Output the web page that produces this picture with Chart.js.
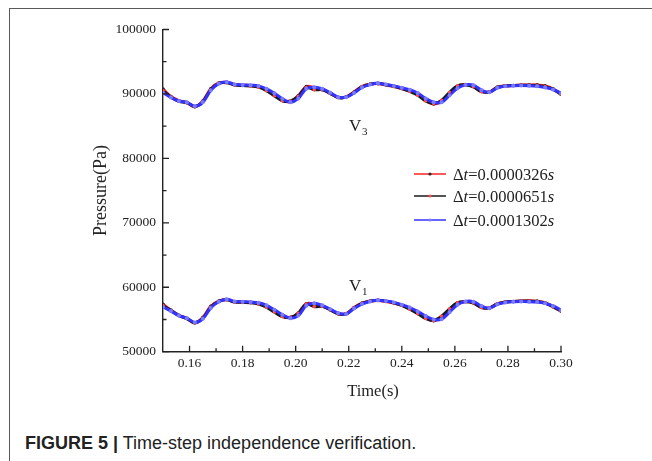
<!DOCTYPE html>
<html>
<head>
<meta charset="utf-8">
<script src="https://cdn.jsdelivr.net/npm/chart.js@4.4.1/dist/chart.umd.min.js"></script>
<style>
  body { margin: 0; background: #fff; }
  #wrap { position: relative; width: 652px; height: 461px; overflow: hidden; }
  #frame { position: absolute; left: 9px; top: 8px; width: 700px; height: 500px;
           border-left: 1.5px solid #5a5a5a; border-top: 1.5px solid #5a5a5a; }
  #chart { position: absolute; left: 0; top: 0; }
  #caption { position: absolute; left: 25px; top: 434px; font-family: "Liberation Sans", Arial, sans-serif;
             font-size: 18px; line-height: 18px; color: #222; white-space: nowrap; }
  #caption b { font-weight: bold; }
</style>
</head>
<body>
<div id="wrap">
  <div id="frame"></div>
  <canvas id="chart" width="652" height="410"></canvas>
  <div id="caption"><b>FIGURE 5 |</b> Time-step independence verification.</div>
</div>
<script>
// время, с
const time = [0.150, 0.153, 0.156, 0.159, 0.162, 0.165, 0.168, 0.171, 0.174, 0.177,
              0.180, 0.183, 0.186, 0.189, 0.192, 0.195, 0.198, 0.201, 0.204, 0.207,
              0.210, 0.213, 0.216, 0.219, 0.222, 0.225, 0.228, 0.231, 0.234, 0.237,
              0.240, 0.243, 0.246, 0.249, 0.252, 0.255, 0.258, 0.261, 0.264, 0.267,
              0.270, 0.273, 0.276, 0.279, 0.282, 0.285, 0.288, 0.291, 0.294, 0.297, 0.300];

const seriesLabels = ['0.0000326', '0.0000651', '0.0001302'];

// V3
const v3Red = [90750, 89600, 88950, 88650, 88000, 88900, 90800, 91700, 91800, 91450,
               91350, 91300, 91150, 90600, 89800, 89000, 88800, 89700, 91150, 91000,
               90700, 90100, 89450, 89550, 90300, 91150, 91500, 91600, 91400, 91150,
               90850, 90500, 89950, 89050, 88450, 88900, 90100, 91200, 91450, 91150,
               90400, 90300, 91050, 91250, 91300, 91380, 91400, 91400, 91250, 90800, 89950];
const v3Black = [90500, 89500, 88850, 88650, 88050, 88800, 90650, 91650, 91750, 91400,
                 91300, 91250, 91050, 90500, 89700, 88950, 88900, 89650, 91000, 90650,
                 90650, 90100, 89450, 89500, 90250, 91100, 91500, 91650, 91450, 91200,
                 90850, 90400, 89800, 88900, 88500, 89000, 90250, 91250, 91400, 91100,
                 90350, 90300, 91000, 91250, 91300, 91350, 91350, 91300, 91150, 90700, 90000];
const v3Blue = [90200, 89450, 88900, 88700, 88100, 88700, 90550, 91600, 91850, 91480,
                91400, 91350, 91250, 90800, 90100, 89250, 88700, 89300, 90800, 91050,
                90800, 90200, 89500, 89500, 90150, 91000, 91450, 91650, 91450, 91250,
                90950, 90650, 90150, 89300, 88700, 88700, 89800, 90900, 91400, 91350,
                90600, 90250, 90950, 91200, 91280, 91300, 91280, 91200, 91000, 90700, 90100];

// V1
const v1Red = [57350, 56450, 55650, 55150, 54450, 55300, 57050, 57850, 58100, 57750,
               57700, 57650, 57500, 57000, 56250, 55500, 55300, 56000, 57450, 57400,
               57100, 56500, 55900, 55900, 56850, 57550, 57850, 57950, 57800, 57550,
               57200, 56700, 56050, 55300, 54800, 55400, 56550, 57550, 57800, 57600,
               56900, 56800, 57450, 57700, 57800, 57850, 57900, 57850, 57600, 57000, 56300];
const v1Black = [57150, 56400, 55600, 55150, 54500, 55200, 56900, 57800, 58050, 57700,
                 57650, 57600, 57400, 56900, 56150, 55450, 55350, 55950, 57400, 57000,
                 57050, 56500, 55900, 55850, 56800, 57500, 57850, 58000, 57850, 57600,
                 57200, 56600, 55900, 55150, 54850, 55500, 56650, 57600, 57750, 57550,
                 56850, 56800, 57400, 57700, 57800, 57850, 57850, 57800, 57550, 56950, 56350];
const v1Blue = [56950, 56300, 55600, 55200, 54550, 55100, 56800, 57750, 58150, 57800,
                57750, 57700, 57600, 57200, 56500, 55750, 55200, 55600, 57150, 57500,
                57200, 56600, 56000, 55850, 56700, 57400, 57800, 58000, 57850, 57650,
                57300, 56850, 56250, 55550, 55000, 55050, 56150, 57300, 57800, 57750,
                57100, 56750, 57350, 57650, 57750, 57780, 57770, 57700, 57500, 57100, 56450];

// подписи и деления осей
const xMajorTicks = [0.16, 0.18, 0.20, 0.22, 0.24, 0.26, 0.28, 0.30];
const xMinorTicks = [0.17, 0.19, 0.21, 0.23, 0.25, 0.27, 0.29];
const yMajorTicks = [50000, 60000, 70000, 80000, 90000, 100000];
const yMinorTicks = [55000, 65000, 75000, 85000, 95000];

const serif = '"Liberation Serif", "Times New Roman", serif';
const lineColors = ['#ff2323', '#1a1a1a', '#3333ff'];
const dotColors = ['#2a2a2a', '#ff4a4a', '#7a7aff'];

function pts(arr) {
    return time.map((t, i) => ({ x: t, y: arr[i] }));
}

function makeSet(arr, k, group) {
    return {
        label: 'dt=' + seriesLabels[k],
        group: group,
        data: pts(arr),
        borderColor: lineColors[k],
        backgroundColor: dotColors[k],
        pointBackgroundColor: dotColors[k],
        pointBorderColor: dotColors[k],
        pointRadius: k === 2 ? 2 : 1.8,
        pointBorderWidth: 0,
        borderWidth: 3,
        tension: 0.35,
        order: 3 - k
    };
}

// внутренние засечки осей
const innerTicks = {
    id: 'innerTicks',
    afterDraw(chart) {
        const { ctx, chartArea: a, scales: { x, y } } = chart;
        ctx.save();
        ctx.strokeStyle = '#222';
        ctx.lineWidth = 1.3;
        ctx.beginPath();
        xMajorTicks.forEach(v => { const p = x.getPixelForValue(v); ctx.moveTo(p, a.bottom); ctx.lineTo(p, a.bottom - 6); });
        xMinorTicks.forEach(v => { const p = x.getPixelForValue(v); ctx.moveTo(p, a.bottom); ctx.lineTo(p, a.bottom - 3.5); });
        yMajorTicks.forEach(v => { const p = y.getPixelForValue(v); ctx.moveTo(a.left, p); ctx.lineTo(a.left + 6, p); });
        yMinorTicks.forEach(v => { const p = y.getPixelForValue(v); ctx.moveTo(a.left, p); ctx.lineTo(a.left + 3.5, p); });
        ctx.stroke();
        ctx.restore();
    }
};

// легенда и подписи V1 / V3
const notes = {
    id: 'notes',
    afterDraw(chart) {
        const { ctx } = chart;
        ctx.save();
        ctx.fillStyle = '#222';
        ctx.textBaseline = 'alphabetic';

        // Time(s)
        ctx.font = '16.5px ' + serif;
        ctx.textAlign = 'center';
        ctx.fillText('Time(s)', 373, 396);

        // V3, V1
        ctx.textAlign = 'left';
        ctx.font = '17px ' + serif;
        ctx.fillText('V', 349, 131);
        ctx.fillText('V', 349, 291);
        ctx.font = '11px ' + serif;
        ctx.fillText('3', 362, 135);
        ctx.fillText('1', 362, 295);

        // легенда
        const rows = [174, 196, 220];
        rows.forEach((yy, k) => {
            ctx.strokeStyle = lineColors[k];
            ctx.lineWidth = 1.5;
            ctx.beginPath();
            ctx.moveTo(414, yy);
            ctx.lineTo(446, yy);
            ctx.stroke();
            ctx.fillStyle = dotColors[k];
            ctx.beginPath();
            ctx.arc(430, yy, 1.6, 0, Math.PI * 2);
            ctx.fill();

            ctx.fillStyle = '#222';
            let xx = 453;
            const base = yy + 5.5;
            const parts = [['Δ', ''], ['t', 'italic '], ['=' + seriesLabels[k], ''], ['s', 'italic ']];
            parts.forEach(([txt, st]) => {
                ctx.font = st + '16.5px ' + serif;
                ctx.fillText(txt, xx, base);
                xx += ctx.measureText(txt).width;
            });
        });
        ctx.restore();
    }
};

const ctx = document.getElementById('chart').getContext('2d');

new Chart(ctx, {
    type: 'line',
    data: {
        datasets: [
            makeSet(v3Red, 0, 'V3'), makeSet(v3Black, 1, 'V3'), makeSet(v3Blue, 2, 'V3'),
            makeSet(v1Red, 0, 'V1'), makeSet(v1Black, 1, 'V1'), makeSet(v1Blue, 2, 'V1')
        ]
    },
    options: {
        responsive: false,
        animation: false,
        layout: { padding: { left: 0, top: 29.5, right: 91, bottom: 0 } },
        plugins: {
            legend: { display: false },
            tooltip: { enabled: false }
        },
        scales: {
            x: {
                type: 'linear',
                min: 0.15,
                max: 0.30,
                afterBuildTicks: s => { s.ticks = xMajorTicks.map(v => ({ value: v })); },
                afterFit: s => { s.height = 58.3; },
                grid: { display: false, drawTicks: false },
                border: { display: true, color: '#222', width: 1.4 },
                ticks: {
                    color: '#222',
                    padding: 4,
                    maxRotation: 0,
                    font: { family: serif, size: 13.5 },
                    callback: v => Number(v).toFixed(2)
                }
            },
            y: {
                min: 50000,
                max: 100000,
                afterBuildTicks: s => { s.ticks = yMajorTicks.map(v => ({ value: v })); },
                afterFit: s => { s.width = 163; },
                grid: { display: false, drawTicks: false },
                border: { display: true, color: '#222', width: 1.4 },
                ticks: {
                    color: '#222',
                    padding: 7,
                    font: { family: serif, size: 13.5 },
                    callback: v => String(v)
                },
                title: {
                    display: true,
                    text: 'Pressure(Pa)',
                    color: '#222',
                    font: { family: serif, size: 18 },
                    padding: { top: 90, bottom: 0 }
                }
            }
        }
    },
    plugins: [innerTicks, notes]
});
</script>
</body>
</html>
